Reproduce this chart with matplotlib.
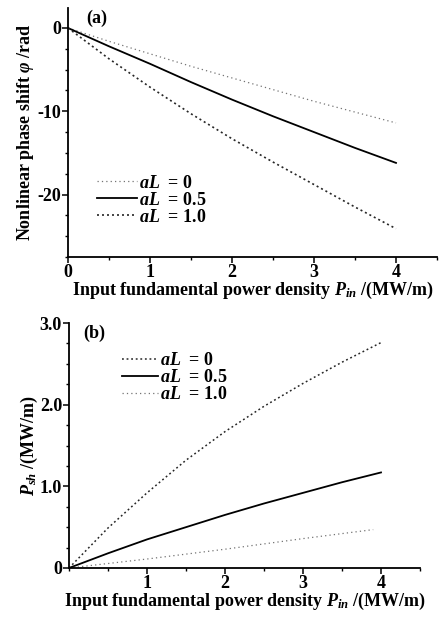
import numpy as np
import matplotlib
matplotlib.use('Agg')
import matplotlib.pyplot as plt
from matplotlib.ticker import MultipleLocator, FixedLocator

# data
p_in = [0, 0.5, 1, 1.5, 2, 2.5, 3, 3.5, 4]
phi_a0 = [0, -1.6, -3.1, -4.6, -6.0, -7.4, -8.8, -10.1, -11.4]
phi_a05 = [0, -2.2, -4.3, -6.5, -8.6, -10.6, -12.5, -14.4, -16.2]
phi_a10 = [0, -3.7, -7.1, -10.3, -13.3, -16.1, -18.8, -21.5, -24.1]

p_in_b = [0, 0.5, 1, 1.5, 2, 2.5, 3, 3.5, 4]
psh_a0 = [0, 0.49, 0.92, 1.32, 1.67, 1.98, 2.26, 2.52, 2.76]
psh_a05 = [0, 0.18, 0.35, 0.50, 0.65, 0.79, 0.92, 1.05, 1.17]
p_in_b2 = [0, 1, 2, 3, 3.9]
psh_a10 = [0, 0.11, 0.23, 0.36, 0.47]

labels = ['$aL$  = 0', '$aL$  = 0.5', '$aL$  = 1.0']

plt.rcParams['font.family'] = 'Liberation Serif'
plt.rcParams['font.weight'] = 'bold'
plt.rcParams['axes.labelweight'] = 'bold'
plt.rcParams['mathtext.fontset'] = 'custom'
plt.rcParams['mathtext.it'] = 'Liberation Serif:italic:bold'
plt.rcParams['mathtext.rm'] = 'Liberation Serif:bold'
plt.rcParams['font.size'] = 13

fig = plt.figure(figsize=(4.44, 6.17), dpi=100)
W, H = 444, 617
ax1 = fig.add_axes([68/W, 1-257/H, (437-68)/W, (257-8)/H])
ax2 = fig.add_axes([69/W, 1-568/H, (420-69)/W, (568-323)/H])

# (a)
ax1.plot(p_in, phi_a0, ls=(0, (1, 2.5)), c='0.45', lw=0.9, label=labels[0])
ax1.plot(p_in, phi_a05, ls='-', c='k', lw=1.3, label=labels[1])
ax1.plot(p_in, phi_a10, ls=(0, (1.2, 1.8)), c='0.15', lw=1.2, label=labels[2])
ax1.set_xlim(0, 4.5)
ax1.set_ylim(-27.5, 2.4)
ax1.yaxis.set_major_locator(FixedLocator([0, -10, -20]))
ax1.set_yticklabels(['0', '-10', '-20'])
ax1.yaxis.set_minor_locator(MultipleLocator(2.5))
ax1.xaxis.set_major_locator(MultipleLocator(1))
ax1.xaxis.set_minor_locator(MultipleLocator(0.5))
ax1.set_xlabel('Input fundamental power density $P_{in}$ /(MW/m)', labelpad=-1)
ax1.set_ylabel('Nonlinear phase shift $\\varphi$ /rad', labelpad=1)
ax1.text(0.05, 0.995, '(a)', transform=ax1.transAxes, va='top')
ax1.legend(loc='upper left', bbox_to_anchor=(0.06, 0.36), frameon=False,
           handlelength=2.2, handletextpad=0.1, labelspacing=0.0, borderaxespad=0)

# (b)
ax2.plot(p_in_b, psh_a0, ls=(0, (1.2, 1.8)), c='0.15', lw=1.1, label=labels[0])
ax2.plot(p_in_b, psh_a05, ls='-', c='k', lw=1.3, label=labels[1])
ax2.plot(p_in_b2, psh_a10, ls=(0, (1, 2.5)), c='0.45', lw=0.9, label=labels[2])
ax2.set_xlim(0, 4.5)
ax2.set_ylim(0, 3.0)
ax2.yaxis.set_major_locator(FixedLocator([0, 1, 2, 3]))
ax2.set_yticklabels(['0', '1.0', '2.0', '3.0'])
ax2.yaxis.set_minor_locator(MultipleLocator(0.25))
ax2.xaxis.set_major_locator(FixedLocator([1, 2, 3, 4]))
ax2.xaxis.set_minor_locator(MultipleLocator(0.5))
ax2.set_xlabel('Input fundamental power density $P_{in}$ /(MW/m)', labelpad=-1)
ax2.set_ylabel('$P_{sh}$ /(MW/m)', labelpad=0)
ax2.text(0.04, 0.995, '(b)', transform=ax2.transAxes, va='top')
ax2.legend(loc='upper left', bbox_to_anchor=(0.13, 0.91), frameon=False,
           handlelength=2.0, handletextpad=0.1, labelspacing=0.0, borderaxespad=0)

for ax in (ax1, ax2):
    ax.spines['top'].set_visible(False)
    ax.spines['right'].set_visible(False)
    ax.spines['left'].set_linewidth(1.3)
    ax.spines['bottom'].set_linewidth(1.3)
    ax.tick_params(which='major', direction='out', length=4, width=1.1, pad=1)
    ax.tick_params(which='minor', direction='out', length=2.5, width=1)

plt.savefig('out.png', dpi=100)
